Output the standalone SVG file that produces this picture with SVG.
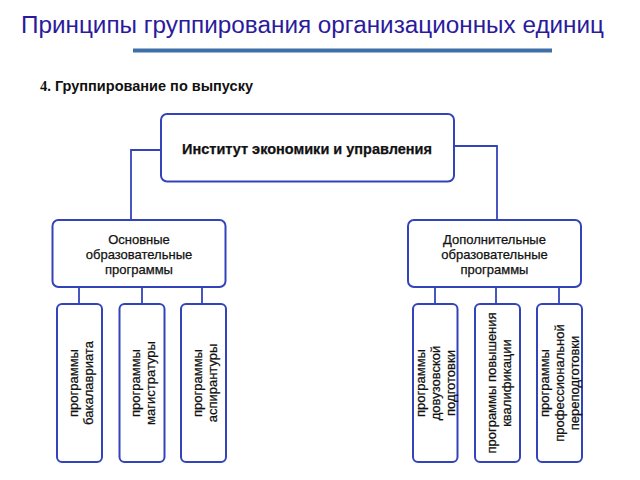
<svg xmlns="http://www.w3.org/2000/svg" width="640" height="480" viewBox="0 0 640 480">
<style>
.box{fill:#fff;stroke:#3344bb;stroke-width:2}
.con{fill:none;stroke:#3344bb;stroke-width:1.8}
.t{font-family:"Liberation Sans",Arial,sans-serif;fill:#111;stroke:#111;stroke-width:0.25;text-anchor:middle}
.mid{font-size:13px}
.rot{font-size:13px}
</style>
<rect width="640" height="480" fill="#fff"/>
<text x="21" y="32.5" font-family="Liberation Sans, Arial, sans-serif" font-size="23" fill="#2b1b9c" textLength="583" lengthAdjust="spacingAndGlyphs">Принципы группирования организационных единиц</text>
<rect x="133" y="48.5" width="419" height="4" fill="#3d6fa8"/>
<text x="40" y="90.5" font-family="Liberation Sans, Arial, sans-serif" font-size="14.5" font-weight="bold" fill="#111" textLength="213" lengthAdjust="spacingAndGlyphs"><tspan font-family="Liberation Serif, serif">4.</tspan> Группирование по выпуску</text>

<g id="connectors">
<polyline class="con" points="161,150 131,150 131,220"/>
<polyline class="con" points="454,146 497,146 497,220"/>
<line class="con" x1="79" y1="287" x2="79" y2="304"/>
<line class="con" x1="142" y1="287" x2="142" y2="304"/>
<line class="con" x1="202" y1="287" x2="202" y2="304"/>
<line class="con" x1="435" y1="287" x2="435" y2="304"/>
<line class="con" x1="496" y1="287" x2="496" y2="304"/>
<line class="con" x1="559" y1="287" x2="559" y2="304"/>
</g>

<g id="institute">
<rect class="box" x="161" y="114" width="293" height="67.5" rx="6"/>
<text class="t" x="307" y="154" font-size="14.5" font-weight="bold" stroke-width="0">Институт экономики и управления</text>
</g>

<g id="main-programs">
<rect class="box" x="52.5" y="220" width="173" height="67" rx="6"/>
<text class="t mid" x="139" y="243.5">Основные</text>
<text class="t mid" x="139" y="258.5">образовательные</text>
<text class="t mid" x="139" y="273.5">программы</text>
</g>

<g id="additional-programs">
<rect class="box" x="408" y="220" width="173" height="67" rx="6"/>
<text class="t mid" x="494.5" y="243.5">Дополнительные</text>
<text class="t mid" x="494.5" y="258.5">образовательные</text>
<text class="t mid" x="494.5" y="273.5">программы</text>
</g>

<g id="bachelor">
<rect class="box" x="57" y="304" width="45" height="158" rx="5"/>
<g transform="translate(79.5,383) rotate(-90)">
<text class="t rot" x="0" y="-2">программы</text>
<text class="t rot" x="0" y="13">бакалавриата</text>
</g>
</g>

<g id="master">
<rect class="box" x="119.5" y="304" width="45" height="158" rx="5"/>
<g transform="translate(142,383) rotate(-90)">
<text class="t rot" x="0" y="-2">программы</text>
<text class="t rot" x="0" y="13">магистратуры</text>
</g>
</g>

<g id="postgrad">
<rect class="box" x="181" y="304" width="45" height="158" rx="5"/>
<g transform="translate(203.5,383) rotate(-90)">
<text class="t rot" x="0" y="-2">программы</text>
<text class="t rot" x="0" y="13">аспирантуры</text>
</g>
</g>

<g id="preuniversity">
<rect class="box" x="413" y="304" width="44.5" height="158" rx="5"/>
<g transform="translate(435,383) rotate(-90)">
<text class="t rot" x="0" y="-10.5">программы</text>
<text class="t rot" x="0" y="4.5">довузовской</text>
<text class="t rot" x="0" y="19.5">подготовки</text>
</g>
</g>

<g id="qualification">
<rect class="box" x="475" y="304" width="45" height="158" rx="5"/>
<g transform="translate(497.5,383) rotate(-90)">
<text class="t rot" x="0" y="-2">программы повышения</text>
<text class="t rot" x="0" y="13">квалификации</text>
</g>
</g>

<g id="retraining">
<rect class="box" x="537" y="304" width="45" height="158" rx="5"/>
<g transform="translate(559.5,383) rotate(-90)">
<text class="t rot" x="0" y="-10.5">программы</text>
<text class="t rot" x="0" y="4.5">профессиональной</text>
<text class="t rot" x="0" y="19.5">переподготовки</text>
</g>
</g>
</svg>
